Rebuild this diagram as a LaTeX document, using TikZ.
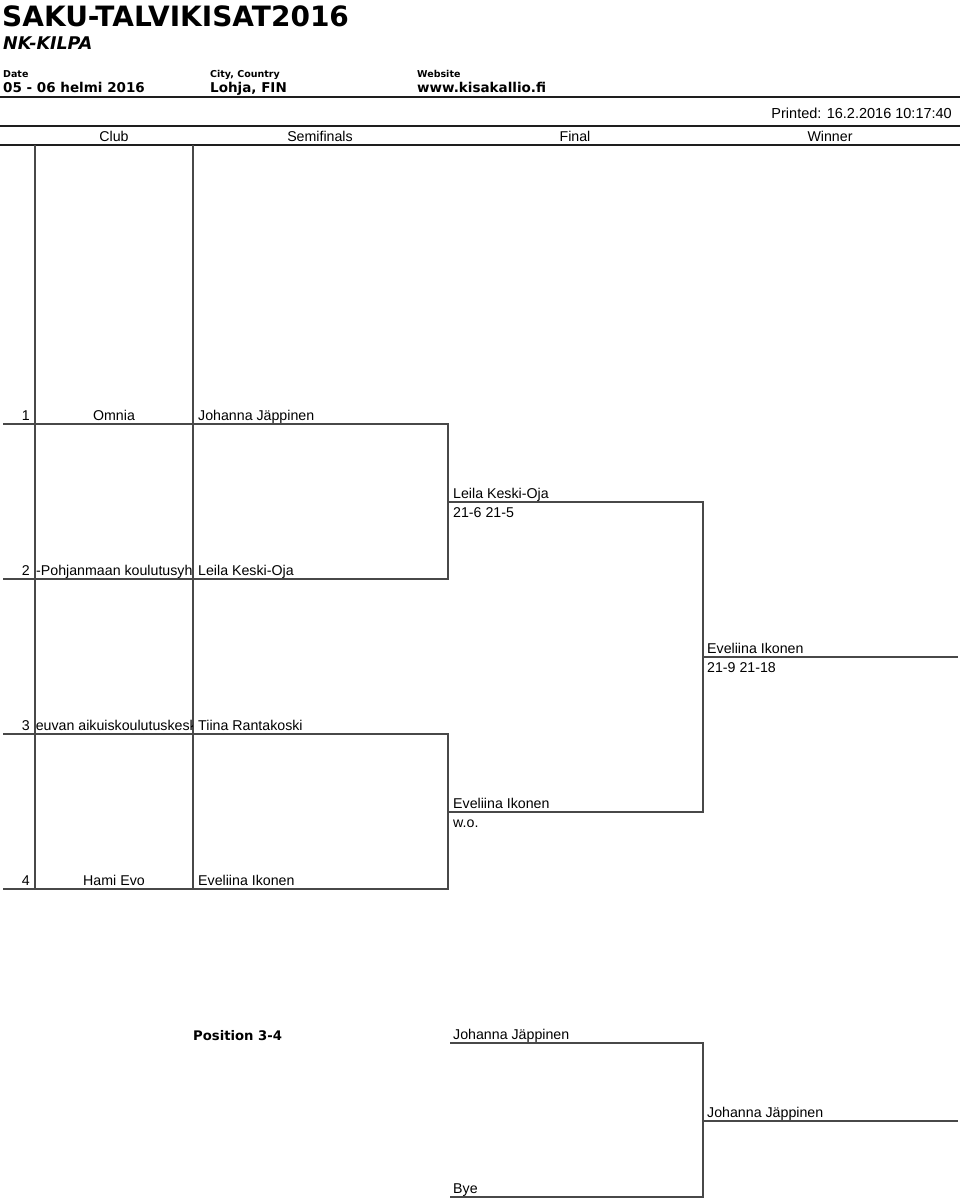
\documentclass[tikz,border=0pt]{standalone}
\usepackage{fontspec}
\setmainfont{Liberation Sans}
\newfontfamily\hfont{DejaVu Sans}
\definecolor{linec}{RGB}{72,72,72}
\definecolor{rulec}{RGB}{30,30,30}
\begin{document}
\begin{tikzpicture}[x=1pt,y=-1pt,
  txt/.style={inner sep=0pt, anchor=base west, font=\fontsize{14.2}{16}\selectfont},
  ctxt/.style={txt, anchor=base},
  rtxt/.style={txt, anchor=base east},
  hb/.style={inner sep=0pt, anchor=base west, font=\hfont\bfseries\fontsize{13.5}{16}\selectfont},
  hs/.style={inner sep=0pt, anchor=base west, font=\hfont\bfseries\fontsize{9.5}{11}\selectfont},
  thick rule/.style={draw=rulec, line width=2.6pt},
  thin rule/.style={draw=rulec, line width=1.1pt},
  grid/.style={draw=linec, line width=1.3pt},
  bracket/.style={draw=linec, line width=1.5pt}]
\useasboundingbox (0,0) rectangle (960,1202);

% ---- header block
\node[inner sep=0pt, anchor=base west, font=\hfont\bfseries\fontsize{28}{32}\selectfont] (title) at (2,26) {SAKU-TALVIKISAT2016};
\node[inner sep=0pt, anchor=base west, font=\hfont\bfseries\itshape\fontsize{17.5}{20}\selectfont] (sub) at (3,49) {NK-KILPA};
\node[hs] (datel) at (3,77) {Date};
\node[hb] (datev) at (3,92) {05 - 06 helmi 2016};
\node[hs] (cityl) at (210,77) {City, Country};
\node[hb] (cityv) at (210,92) {Lohja, FIN};
\node[hs] (webl) at (417,77) {Website};
\node[hb] (webv) at (417,92) {www.kisakallio.fi};
\coordinate (h1a) at (0,97); \coordinate (h1b) at (960,97);
\draw[thick rule] (h1a) -- (h1b);
\node[rtxt, font=\fontsize{14.5}{16}\selectfont] (printed) at (952,118) {Printed: 16.2.2016 10:17:40};
\coordinate (h2a) at (0,126); \coordinate (h2b) at (960,126);
\draw[thick rule] (h2a) -- (h2b);
\node[ctxt] (hclub) at (114,141) {Club};
\node[ctxt] (hsemi) at (320,141) {Semifinals};
\node[ctxt] (hfin) at (575,141) {Final};
\node[ctxt] (hwin) at (830,141) {Winner};
\coordinate (h3a) at (0,145); \coordinate (h3b) at (960,145);
\draw[thin rule] (h3a) -- (h3b);

% ---- column separators
\coordinate (v1t) at (35,145); \coordinate (v1b) at (35,890);
\coordinate (v2t) at (193,145); \coordinate (v2b) at (193,890);
\draw[grid] (v1t) -- (v1b);
\draw[grid] (v2t) -- (v2b);

% ---- entry rows
\coordinate (r1a) at (3,424); \coordinate (r1b) at (448,424);
\coordinate (r2a) at (3,579); \coordinate (r2b) at (448,579);
\coordinate (r3a) at (3,734); \coordinate (r3b) at (448,734);
\coordinate (r4a) at (3,889); \coordinate (r4b) at (448,889);

\node[rtxt] (n1) at (30,420) {1};
\node[ctxt] (c1) at (114,420) {Omnia};
\node[txt] (p1) at (198,420) {Johanna Jäppinen};

\node[rtxt] (n2) at (30,575) {2};
\begin{scope}
  \clip (36,560) rectangle (192.4,582);
  \node[txt] (c2) at (36,575) {-Pohjanmaan koulutusyh};
\end{scope}
\node[txt] (p2) at (198,575) {Leila Keski-Oja};

\node[rtxt] (n3) at (30,730) {3};
\begin{scope}
  \clip (36,714) rectangle (192.4,737);
  \node[rtxt] (c3) at (197,730) {euvan aikuiskoulutuskesk};
\end{scope}
\node[txt] (p3) at (198,730) {Tiina Rantakoski};

\node[rtxt] (n4) at (30,885) {4};
\node[ctxt] (c4) at (114,885) {Hami Evo};
\node[txt] (p4) at (198,885) {Eveliina Ikonen};

% ---- semifinal brackets
\coordinate (s1) at (448,502); \coordinate (s1e) at (703,502);
\coordinate (s2) at (448,812); \coordinate (s2e) at (703,812);
\draw[bracket] (r1a) -- (r1b) -- (r2b) -- (r2a);
\draw[bracket] (r3a) -- (r3b) -- (r4b) -- (r4a);

\node[txt] (w1) at (453,498) {Leila Keski-Oja};
\node[txt] (sc1) at (453,517) {21-6 21-5};
\node[txt] (w2) at (453,808) {Eveliina Ikonen};
\node[txt] (sc2) at (453,827) {w.o.};

% ---- final bracket
\coordinate (f) at (703,657); \coordinate (fe) at (958,657);
\draw[bracket] (s1) -- (s1e) -- (s2e) -- (s2);
\draw[bracket] (f) -- (fe);
\node[txt] (champ) at (707,653) {Eveliina Ikonen};
\node[txt] (scf) at (707,672) {21-9 21-18};

% ---- position 3-4
\node[inner sep=0pt, anchor=base west, font=\hfont\bfseries\fontsize{13.2}{16}\selectfont] (pos) at (193,1040) {Position 3-4};
\coordinate (q1a) at (450,1043); \coordinate (q1b) at (703,1043);
\coordinate (q2a) at (450,1197); \coordinate (q2b) at (703,1197);
\coordinate (qw) at (703,1121); \coordinate (qwe) at (958,1121);
\draw[bracket] (q1a) -- (q1b) -- (q2b) -- (q2a);
\draw[bracket] (qw) -- (qwe);
\node[txt] (qp1) at (453,1039) {Johanna Jäppinen};
\node[txt] (qp2) at (453,1193) {Bye};
\node[txt] (qwin) at (707,1117) {Johanna Jäppinen};
\end{tikzpicture}
\end{document}
